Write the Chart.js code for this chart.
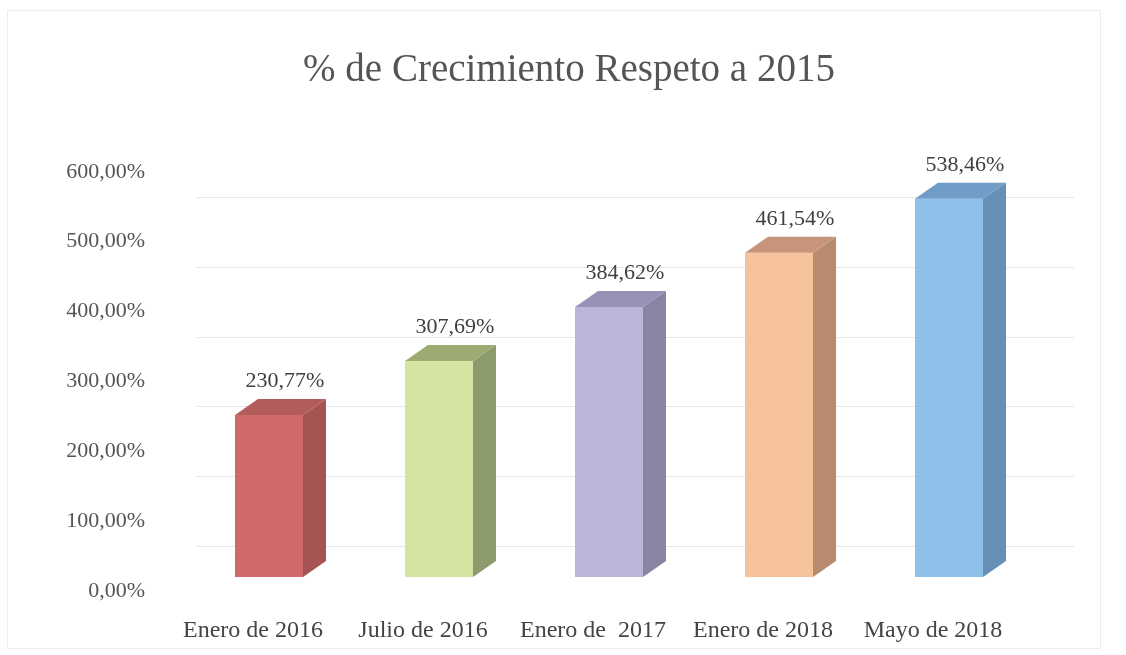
<!DOCTYPE html>
<html>
<head>
<meta charset="utf-8">
<script src="https://cdn.jsdelivr.net/npm/chart.js@4/dist/chart.umd.min.js"></script>
<style>
  html, body { margin: 0; padding: 0; background: #fff; }
  #wrap { width: 1126px; height: 655px; }
</style>
</head>
<body>
<div id="wrap"><canvas id="growthChart" width="1126" height="655"></canvas></div>
<script>
// Chart data
const categories = ['Enero de 2016', 'Julio de 2016', 'Enero de  2017', 'Enero de 2018', 'Mayo de 2018'];
const growthValues = [230.77, 307.69, 384.62, 461.54, 538.46];
const yTicks = [0, 100, 200, 300, 400, 500, 600];

// front / side / top colours of each 3D bar
const frontColors = ['#cf6a69', '#d6e4a3', '#bdb4d9', '#f6c29c', '#8fc0ea'];
const sideColors = ['#a55353', '#8c9b6c', '#8a84a3', '#b98b6e', '#6690b6'];
const topColors = ['#b35c5c', '#9bab72', '#9992b6', '#c8957a', '#709dc7'];

const FONT = '"Liberation Serif", "Times New Roman", serif';
const DEPTH_X = 23;
const DEPTH_Y = 16;

function fmtPct(v) {
  return v.toFixed(2).replace('.', ',') + '%';
}

// faint frame + back wall gridlines
const backWall = {
  id: 'backWall',
  beforeDatasetsDraw(chart) {
    const ctx = chart.ctx;
    const y = chart.scales.y;
    const area = chart.chartArea;
    ctx.save();
    ctx.strokeStyle = '#ededed';
    ctx.lineWidth = 1;
    ctx.strokeRect(7.5, 10.5, 1093, 638);
    ctx.strokeStyle = '#e6e6e6';
    yTicks.forEach(t => {
      if (t === 0) return;
      const py = Math.round(y.getPixelForValue(t) + 25) + 0.5;
      ctx.beginPath();
      ctx.moveTo(area.left + 12, py);
      ctx.lineTo(area.right + 40, py);
      ctx.stroke();
    });
    ctx.restore();
  }
};

// side and top faces, plus the value labels
const bars3d = {
  id: 'bars3d',
  afterDatasetsDraw(chart) {
    const ctx = chart.ctx;
    const meta = chart.getDatasetMeta(0);
    ctx.save();
    meta.data.forEach((bar, i) => {
      const p = bar.getProps(['x', 'y', 'base', 'width'], true);
      const left = p.x - p.width / 2;
      const right = p.x + p.width / 2;

      ctx.fillStyle = sideColors[i];
      ctx.beginPath();
      ctx.moveTo(right, p.y);
      ctx.lineTo(right + DEPTH_X, p.y - DEPTH_Y);
      ctx.lineTo(right + DEPTH_X, p.base - DEPTH_Y);
      ctx.lineTo(right, p.base);
      ctx.closePath();
      ctx.fill();

      ctx.fillStyle = topColors[i];
      ctx.beginPath();
      ctx.moveTo(left, p.y);
      ctx.lineTo(left + DEPTH_X, p.y - DEPTH_Y);
      ctx.lineTo(right + DEPTH_X, p.y - DEPTH_Y);
      ctx.lineTo(right, p.y);
      ctx.closePath();
      ctx.fill();

      ctx.fillStyle = '#404040';
      ctx.font = '22px ' + FONT;
      ctx.textAlign = 'center';
      ctx.textBaseline = 'alphabetic';
      ctx.fillText(fmtPct(growthValues[i]), p.x + 16, p.y - DEPTH_Y - 12);
    });
    ctx.restore();
  }
};

new Chart(document.getElementById('growthChart'), {
  type: 'bar',
  data: {
    labels: categories,
    datasets: [{
      data: growthValues,
      yAxisID: 'yb',
      backgroundColor: frontColors,
      borderWidth: 0,
      barPercentage: 0.4,
      categoryPercentage: 1.0
    }]
  },
  options: {
    responsive: false,
    animation: false,
    layout: { padding: { left: 12, right: 0, top: 0, bottom: 0 } },
    plugins: {
      legend: { display: false },
      tooltip: { enabled: false },
      title: {
        display: true,
        text: '% de Crecimiento Respeto a 2015',
        color: '#555555',
        font: { family: FONT, size: 39, weight: 'normal' },
        padding: { top: 47, bottom: 78 }
      }
    },
    scales: {
      x: {
        grid: { display: false },
        border: { display: false },
        ticks: {
          color: '#444444',
          font: { family: FONT, size: 24 },
          padding: 17,
          maxRotation: 0,
          autoSkip: false,
          labelOffset: -16
        },
        afterFit(s) { s.height = 64; }
      },
      y: {
        min: 0,
        max: 600,
        afterBuildTicks(s) { s.ticks = yTicks.map(v => ({ value: v })); },
        grid: { display: false, drawTicks: false },
        border: { display: false },
        ticks: {
          color: '#555555',
          font: { family: FONT, size: 22 },
          padding: 39,
          callback: v => fmtPct(v)
        },
        afterFit(s) { s.width = 172; }
      },
      // empty right axis that keeps room for the bar depth
      yr: {
        position: 'right',
        min: 0,
        max: 1,
        grid: { display: false, drawTicks: false },
        border: { display: false },
        ticks: { display: false },
        afterFit(s) { s.width = 92; }
      },
      // hidden scale the bars are drawn on (front face floor sits above the axis zero)
      yb: {
        display: false,
        min: -20,
        max: 577
      }
    }
  },
  plugins: [backWall, bars3d]
});
</script>
</body>
</html>
